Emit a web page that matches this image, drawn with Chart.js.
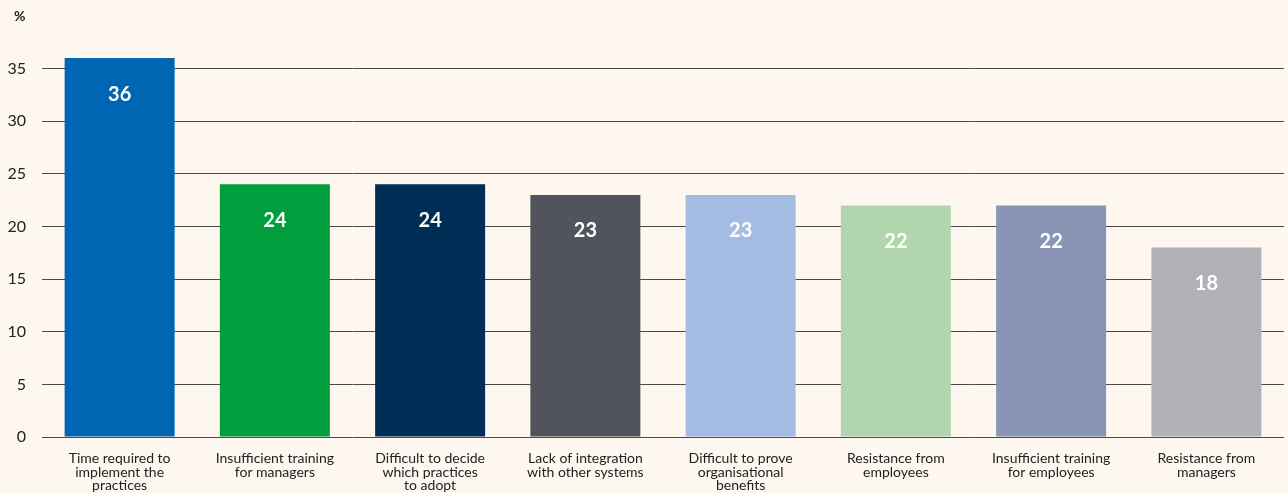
<!DOCTYPE html>
<html>
<head>
<meta charset="utf-8">
<script src="https://cdn.jsdelivr.net/npm/chart.js@4"></script>
<style>
  html, body { margin: 0; padding: 0; background: #fdf7f0; }
  #wrap { width: 1288px; height: 493px; }
</style>
</head>
<body>
<div id="wrap"><canvas id="c" width="1288" height="493"></canvas></div>
<script>
const categories = [
  ["Time required to", "implement the", "practices"],
  ["Insufficient training", "for managers"],
  ["Difficult to decide", "which practices", "to adopt"],
  ["Lack of integration", "with other systems"],
  ["Difficult to prove", "organisational", "benefits"],
  ["Resistance from", "employees"],
  ["Insufficient training", "for employees"],
  ["Resistance from", "managers"]
];
const values = [36, 24, 24, 23, 23, 22, 22, 18];
const barColors = ["#0066b3", "#009e3d", "#002d56", "#51545d", "#a4bbe3", "#b1d6ae", "#8a94b4", "#b1b2b7"];
const yTicks = [0, 5, 10, 15, 20, 25, 30, 35];
const unitLabel = "%";

const FONT = "Lato, 'Open Sans', sans-serif";

// Value labels inside the top of each bar, plus the unit label above the axis
const barLabels = {
  id: "barLabels",
  afterDatasetsDraw(chart) {
    const ctx = chart.ctx;
    const meta = chart.getDatasetMeta(0);
    ctx.save();
    ctx.fillStyle = "#ffffff";
    ctx.font = "bold 20px " + FONT;
    ctx.textAlign = "center";
    ctx.textBaseline = "middle";
    meta.data.forEach((bar, i) => {
      ctx.fillText(String(values[i]), bar.x, bar.y + 36);
    });
    ctx.fillStyle = "#222222";
    ctx.font = "bold 14px " + FONT;
    ctx.textAlign = "left";
    ctx.fillText(unitLabel, 14, 16);
    ctx.restore();
  }
};

new Chart(document.getElementById("c"), {
  type: "bar",
  data: {
    labels: categories,
    datasets: [{
      data: values,
      backgroundColor: barColors,
      borderWidth: 0,
      barPercentage: 0.7085,
      categoryPercentage: 1.0
    }]
  },
  options: {
    responsive: false,
    animation: false,
    layout: { padding: { top: 37, right: 4, bottom: 0, left: 0 } },
    plugins: {
      legend: { display: false },
      tooltip: { enabled: false }
    },
    scales: {
      x: {
        grid: { display: false, drawTicks: false },
        border: { display: false },
        afterFit(scale) { scale.height = 56; },
        ticks: {
          color: "#222222",
          font: { family: FONT, size: 14, lineHeight: "13.5px" },
          padding: 15,
          maxRotation: 0,
          autoSkip: false
        }
      },
      y: {
        min: 0,
        max: 38,
        afterBuildTicks(scale) {
          scale.ticks = yTicks.map(v => ({ value: v }));
        },
        afterFit(scale) { scale.width = 42; },
        grid: { color: "#4a4a4a", lineWidth: 1, drawTicks: false },
        border: { display: false },
        ticks: {
          color: "#222222",
          font: { family: FONT, size: 16 },
          padding: 16
        }
      }
    }
  },
  plugins: [barLabels]
});
</script>
</body>
</html>
